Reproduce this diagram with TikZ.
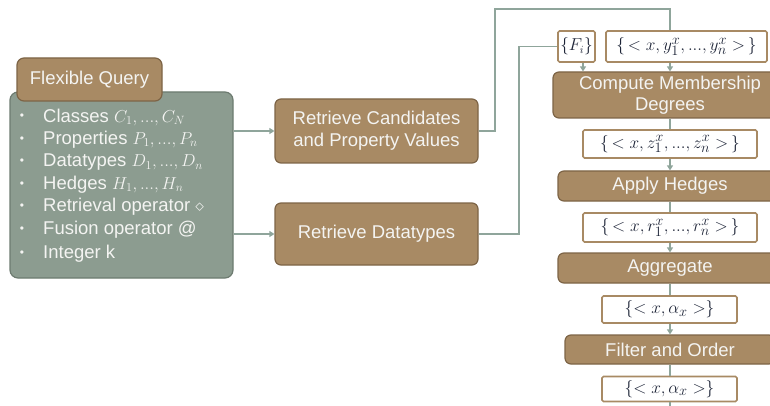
\documentclass[tikz,border=0pt]{standalone}
\usepackage{fontspec}
\setmainfont{Liberation Sans}
\usetikzlibrary{arrows.meta}

\definecolor{opfill}{HTML}{A88A64}
\definecolor{opline}{HTML}{7D6446}
\definecolor{qfill}{HTML}{8C9C90}
\definecolor{qline}{HTML}{6D7B70}
\definecolor{wirec}{HTML}{8FA59B}
\definecolor{settext}{HTML}{1E2538}
\definecolor{lighttext}{HTML}{F4F4F2}

% compact ellipsis and inline formulas for the item list
\newcommand{\el}{\mathord{{.}{.}{.}}}
\newcommand{\itm}[1]{{\fontsize{17}{20}\selectfont$#1$}}

\tikzset{
  opbox/.style={draw=opline, fill=opfill, rounded corners=6pt, line width=1.2pt,
    text=lighttext, font=\fontsize{18.5}{22}\selectfont, align=center, inner sep=0pt},
  setbox/.style={draw=opfill, fill=white, line width=1.6pt, rounded corners=1.5pt,
    text=settext, font=\fontsize{19}{22}\selectfont, inner sep=0pt},
  querybox/.style={draw=qline, fill=qfill, rounded corners=8pt, line width=1.2pt},
  itemtext/.style={text=lighttext, font=\fontsize{18.5}{22}\selectfont, anchor=west, inner sep=0pt},
  itemdot/.style={text=lighttext, font=\fontsize{12}{14}\selectfont, inner sep=0pt},
  wire/.style={draw=wirec, line width=1.6pt},
  arr/.style={wire, -{Triangle[length=5pt,width=6pt]}}
}

\begin{document}
\begin{tikzpicture}[x=1pt,y=-1pt]
\useasboundingbox (0,0) rectangle (770,406);
\clip (0,0) rectangle (770,406);

% query panel with its tab
\node[querybox, minimum width=223pt, minimum height=186pt] (query) at (121.5,185) {};
\node[opbox, rounded corners=7pt, minimum width=145pt, minimum height=43pt] (tab) at (89.5,79.5) {Flexible Query};

% query items
\node[itemdot] (d1) at (22,117) {•};
\node[itemtext] (i1) at (43,117) {Classes \itm{C_1,\el,C_N}};
\node[itemdot] (d2) at (22,139.5) {•};
\node[itemtext] (i2) at (43,139.5) {Properties \itm{P_1,\el,P_n}};
\node[itemdot] (d3) at (22,162) {•};
\node[itemtext] (i3) at (43,162) {Datatypes \itm{D_1,\el,D_n}};
\node[itemdot] (d4) at (22,184.5) {•};
\node[itemtext] (i4) at (43,184.5) {Hedges \itm{H_1,\el,H_n}};
\node[itemdot] (d5) at (22,207) {•};
\node[itemtext] (i5) at (43,207) {Retrieval operator \itm{\diamond}};
\node[itemdot] (d6) at (22,230) {•};
\node[itemtext] (i6) at (43,230) {Fusion operator @};
\node[itemdot] (d7) at (22,253.5) {•};
\node[itemtext] (i7) at (43,253.5) {Integer k};

% retrieval steps
\node[opbox, minimum width=203pt, minimum height=64pt] (rc) at (376.5,131) {Retrieve Candidates\\and Property Values};
\node[opbox, minimum width=203pt, minimum height=62pt] (rd) at (376.5,234) {Retrieve Datatypes};

% evaluation column
\node[setbox, minimum width=37pt, minimum height=31pt, font=\fontsize{16}{20}\selectfont] (fi) at (576.5,46.5) {$\{F_i\}$};
\node[setbox, minimum width=161pt, minimum height=31pt] (ys) at (686.5,46.5) {$\{\,<x, y_1^x,\el, y_n^x>\,\}$};
\node[opbox, minimum width=234pt, minimum height=46pt, font=\fontsize{18.5}{20.5}\selectfont] (cm) at (670,95) {Compute Membership\\Degrees};
\node[setbox, minimum width=174pt, minimum height=28pt] (zs) at (670,144) {$\{\,<x, z_1^x,\el, z_n^x>\,\}$};
\node[opbox, minimum width=224pt, minimum height=30pt] (ah) at (670,186) {Apply Hedges};
\node[setbox, minimum width=174pt, minimum height=29pt] (rs) at (670,227.5) {$\{\,<x, r_1^x,\el, r_n^x>\,\}$};
\node[opbox, minimum width=224pt, minimum height=30pt] (ag) at (670,268) {Aggregate};
\node[setbox, minimum width=135pt, minimum height=27pt] (a1) at (669.5,309.5) {$\{<x, \alpha_x>\}$};
\node[opbox, minimum width=210pt, minimum height=29pt] (fo) at (670,349.5) {Filter and Order};
\node[setbox, minimum width=135pt, minimum height=25pt] (a2) at (669.5,389) {$\{<x, \alpha_x>\}$};

\coordinate (top1) at (495,9);
\coordinate (top2) at (519,0);
\coordinate (out) at (670,412);

% connectors
\draw[arr] (query.east |- rc.west) -- (rc.west);
\draw[arr] (query.east |- rd.west) -- (rd.west);
\draw[wire] (rc.east) -| (top1) -| (cm.north |- ys.north);
\draw[wire] (rd.east) -| (top2 |- fi.west) -- (fi.west);
\draw[arr] ([xshift=6.5pt]fi.south) -- ([xshift=6.5pt]fi.south |- cm.north);
\draw[arr] (cm.north |- ys.south) -- (cm.north);
\draw[wire] (cm.south) -- (zs.north);
\draw[arr] (zs.south) -- (ah.north);
\draw[wire] (ah.south) -- (rs.north);
\draw[arr] (rs.south) -- (ag.north);
\draw[wire] (ag.south) -- (ag.south |- a1.north);
\draw[arr] (ag.south |- a1.south) -- (fo.north);
\draw[wire] (fo.south) -- (fo.south |- a2.north);
\draw[wire] (fo.south |- a2.south) -- (out);
\end{tikzpicture}
\end{document}
